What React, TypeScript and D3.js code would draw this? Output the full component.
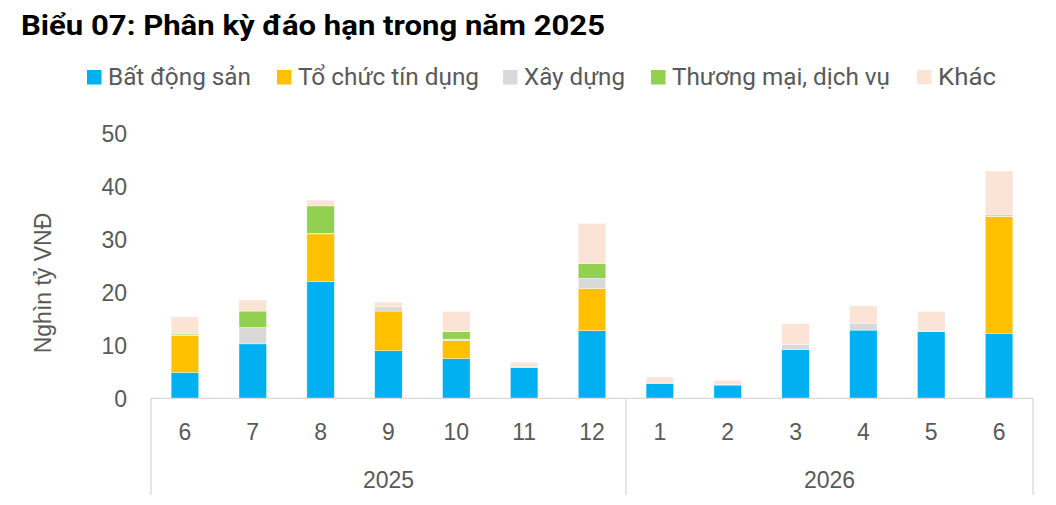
import * as d3 from "d3";
import { useEffect, useRef } from "react";

// --- data (nghìn tỷ VNĐ) ---
const months = ["6", "7", "8", "9", "10", "11", "12", "1", "2", "3", "4", "5", "6"];
const years = ["2025", "2025", "2025", "2025", "2025", "2025", "2025", "2026", "2026", "2026", "2026", "2026", "2026"];
const batDongSan = [4.9, 10.3, 22.1, 9.0, 7.5, 5.8, 12.8, 2.8, 2.5, 9.2, 12.9, 12.6, 12.3];
const toChucTinDung = [7.0, 0, 9.0, 7.5, 3.4, 0, 8.0, 0, 0, 0, 0, 0, 22.1];
const xayDung = [0.1, 3.1, 0.1, 0.8, 0.3, 0.1, 1.9, 0, 0.1, 1.0, 1.3, 0, 0.1];
const thuongMai = [0.2, 3.1, 5.2, 0, 1.4, 0.1, 2.8, 0, 0, 0, 0, 0, 0.2];
const khac = [3.2, 2.1, 1.1, 0.9, 3.8, 0.8, 7.6, 1.2, 0.8, 3.9, 3.3, 3.8, 8.3];
const yTicks = [0, 10, 20, 30, 40, 50];

const seriesNames = ["Bất động sản", "Tổ chức tín dụng", "Xây dựng", "Thương mại, dịch vụ", "Khác"];
const seriesValues = [batDongSan, toChucTinDung, xayDung, thuongMai, khac];
const colors = ["#00B0F0", "#FFC000", "#D9D9D9", "#92D050", "#FBE3D6"];

const W = 1056;
const H = 505;
const left = 151;
const right = 1033;
const bottom = 398.3;
const top = 134;
const gray = "#595959";
const axisColor = "#D9D9D9";
const axisFont = "Liberation Sans, Arial, sans-serif";

// legend placement: square x and text width
const legendX = [87, 277, 503, 651, 917];
const legendW = [143, 181, 101, 218, 58];

export default function App() {
  const svgRef = useRef<SVGSVGElement>(null);

  useEffect(() => {
    if (!svgRef.current) return;
    const svg = d3.select(svgRef.current);
    svg.selectAll("*").remove();

    const keys = months.map((m, i) => `${years[i]}-${m}-${i}`);
    const rows = keys.map((k, i) => {
      const r: any = { key: k };
      seriesNames.forEach((s, j) => (r[s] = seriesValues[j][i]));
      return r;
    });

    const x = d3.scaleBand<string>().domain(keys).range([left, right]).paddingInner(0.595).paddingOuter(0.2975);
    const y = d3.scaleLinear().domain([0, 50]).range([bottom, top]);
    const stacked = d3.stack<any>().keys(seriesNames)(rows);

    // title
    svg
      .append("text")
      .attr("x", 21)
      .attr("y", 35)
      .attr("font-family", "Roboto, sans-serif")
      .attr("font-weight", 700)
      .attr("font-size", 28)
      .attr("fill", "#000")
      .attr("textLength", 584)
      .attr("lengthAdjust", "spacingAndGlyphs")
      .text("Biểu 07: Phân kỳ đáo hạn trong năm 2025");

    // legend
    const lg = svg.append("g");
    seriesNames.forEach((s, i) => {
      lg.append("rect")
        .attr("x", legendX[i])
        .attr("y", 70)
        .attr("width", 14.5)
        .attr("height", 14.5)
        .attr("fill", colors[i]);
      lg.append("text")
        .attr("x", legendX[i] + 21)
        .attr("y", 85)
        .attr("font-family", "Roboto, sans-serif")
        .attr("font-size", 24)
        .attr("fill", gray)
        .attr("textLength", legendW[i])
        .attr("lengthAdjust", "spacingAndGlyphs")
        .text(s);
    });

    // bars
    svg
      .append("g")
      .selectAll("g")
      .data(stacked)
      .join("g")
      .attr("fill", (_, i) => colors[i])
      .selectAll("rect")
      .data((d) => d)
      .join("rect")
      .attr("x", (d) => x(d.data.key)!)
      .attr("width", x.bandwidth())
      .attr("y", (d) => y(d[1]))
      .attr("height", (d) => Math.max(0, y(d[0]) - y(d[1])))
      .attr("stroke", "#fff")
      .attr("stroke-opacity", 0.6)
      .attr("stroke-width", 0.6);

    // y tick labels
    svg
      .append("g")
      .selectAll("text")
      .data(yTicks)
      .join("text")
      .attr("x", 127)
      .attr("y", (d) => y(d))
      .attr("dy", "0.36em")
      .attr("text-anchor", "end")
      .attr("font-family", axisFont)
      .attr("font-size", 23)
      .attr("fill", gray)
      .text((d) => d);

    // y axis title
    svg
      .append("text")
      .attr("transform", `translate(51,283) rotate(-90)`)
      .attr("text-anchor", "middle")
      .attr("font-family", axisFont)
      .attr("font-size", 23)
      .attr("fill", gray)
      .text("Nghìn tỷ VNĐ");

    // category axis
    const ax = svg.append("g").attr("stroke", axisColor).attr("stroke-width", 1.3);
    ax.append("line").attr("x1", left).attr("x2", right).attr("y1", bottom).attr("y2", bottom);
    const groups = Array.from(new Set(years));
    const bounds = groups.map((g) => {
      const ks = keys.filter((_, i) => years[i] === g);
      const x0 = x(ks[0])! - (x.step() * x.paddingInner()) / 2;
      const x1 = x(ks[ks.length - 1])! + x.bandwidth() + (x.step() * x.paddingInner()) / 2;
      return { g, x0, x1 };
    });
    const dividers = [left, ...bounds.map((b) => b.x1)];
    dividers.forEach((dx) => {
      ax.append("line").attr("x1", dx).attr("x2", dx).attr("y1", bottom).attr("y2", 495);
    });

    svg
      .append("g")
      .selectAll("text")
      .data(keys)
      .join("text")
      .attr("x", (d) => x(d)! + x.bandwidth() / 2)
      .attr("y", 432)
      .attr("dy", "0.36em")
      .attr("text-anchor", "middle")
      .attr("font-family", axisFont)
      .attr("font-size", 23)
      .attr("fill", gray)
      .text((_, i) => months[i]);

    svg
      .append("g")
      .selectAll("text")
      .data(bounds)
      .join("text")
      .attr("x", (d) => (d.x0 + d.x1) / 2)
      .attr("y", 480)
      .attr("dy", "0.36em")
      .attr("text-anchor", "middle")
      .attr("font-family", axisFont)
      .attr("font-size", 23)
      .attr("fill", gray)
      .text((d) => d.g);
  }, []);

  return (
    <svg
      ref={svgRef}
      width={W}
      height={H}
      style={{ position: "absolute", left: 0, top: 0, display: "block", background: "#fff" }}
    />
  );
}
